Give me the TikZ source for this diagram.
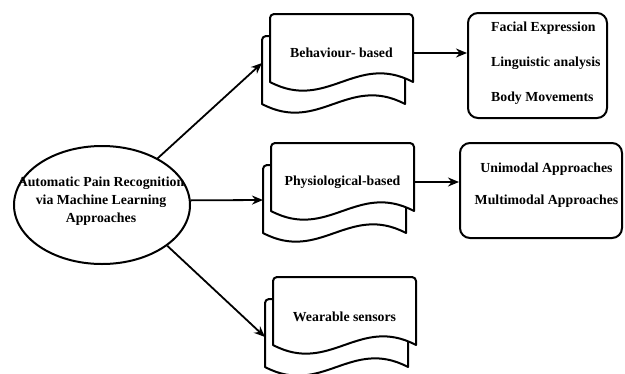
\documentclass[tikz,border=0pt]{standalone}
\usepackage{fontspec}
\setmainfont{Liberation Serif}
\usetikzlibrary{positioning, arrows.meta, shapes.geometric}

% one page of a stacked document, top left corner at (#1,#2)
\newcommand{\docpage}[2]{%
  \draw[page] (#1,#2+68) [rounded corners=4] -- (#1,#2) -- (#1+143,#2) [sharp corners] -- (#1+143,#2+68)
    .. controls (#1+86,#2+38) and (#1+57,#2+98) .. (#1,#2+68) -- cycle;
}

\tikzset{
  page/.style={line width=2pt, fill=white, line join=round},
  roundbox/.style={draw, line width=2pt, rounded corners=10pt, inner sep=0pt},
  arr/.style={line width=1.8pt, -{Stealth[length=11pt,width=9pt]}},
  lbl/.style={font=\fontsize{13.8}{16}\selectfont\bfseries, inner sep=0pt},
}

\begin{document}
\begin{tikzpicture}[x=1pt, y=-1pt]
\useasboundingbox (0,0) rectangle (625,373);

% Root ellipse
\node[draw, ellipse, line width=2pt, minimum width=176, minimum height=118, inner sep=0pt] (apr) at (102,205) {};
\node[lbl, align=center, font=\fontsize{13.8}{18}\selectfont\bfseries] (aprtxt) at (101,201)
  {Automatic Pain Recognition\\via Machine Learning\\Approaches};

% Behaviour-based
\docpage{262}{36}
\docpage{270}{14}
\node[lbl, minimum width=143] (beh) at (341.5,53) {Behaviour- based};
\coordinate (behin) at (262,63);
\node[roundbox, minimum width=139, minimum height=105] (beht) at (537.5,65.5) {};
\node[lbl, anchor=west, align=left, font=\fontsize{13.8}{35}\selectfont\bfseries] (behtxt) at (491,63)
  {Facial Expression\\Linguistic analysis\\Body Movements};

% Physiological-based
\docpage{263}{165}
\docpage{271}{143}
\node[lbl, minimum width=143] (phy) at (342.5,182) {Physiological-based};
\coordinate (phyin) at (263,200);
\node[roundbox, minimum width=162, minimum height=95] (phyt) at (541,190.5) {};
\node[lbl, align=center, font=\fontsize{13.8}{32}\selectfont\bfseries] (phytxt) at (546.5,185.5)
  {Unimodal Approaches\\Multimodal Approaches};

% Wearable sensors
\docpage{265}{299}
\docpage{273}{277}
\node[lbl, minimum width=143] (wear) at (344.5,317) {Wearable sensors};
\coordinate (wearin) at (265,337);

% Arrows
\draw[arr] (apr.40) -- (behin);
\draw[arr] (apr.3) -- (phyin);
\draw[arr] (apr.-32) -- (wearin);
\draw[arr] (beh.east) -- (beht.west |- beh.east);
\draw[arr] (phy.east) -- (phyt.west |- phy.east);
\end{tikzpicture}
\end{document}
